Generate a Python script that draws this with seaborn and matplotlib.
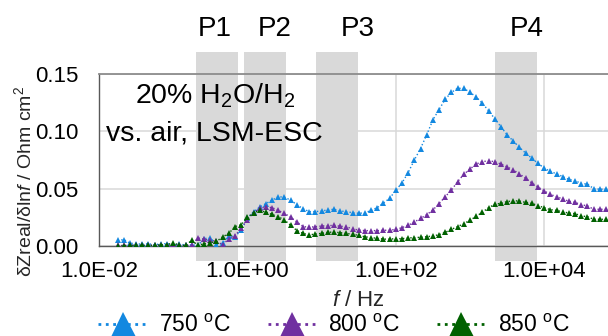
import matplotlib
matplotlib.use("Agg")
import matplotlib.pyplot as plt
import seaborn as sns
import pandas as pd
from matplotlib.ticker import FixedLocator, NullLocator

# ---------------- data ----------------
freq_hz = [0.017783, 0.021544, 0.026102, 0.031623, 0.038312, 0.046416, 0.056234, 0.068129, 0.082540,
           0.1, 0.12115, 0.14678, 0.17783, 0.21544, 0.26102, 0.31623, 0.38312, 0.46416, 0.56234, 0.68129, 0.82540,
           1.0, 1.2115, 1.4678, 1.7783, 2.1544, 2.6102, 3.1623, 3.8312, 4.6416, 5.6234, 6.8129, 8.2540,
           10.0, 12.115, 14.678, 17.783, 21.544, 26.102, 31.623, 38.312, 46.416, 56.234, 68.129, 82.540,
           100.0, 121.15, 146.78, 177.83, 215.44, 261.02, 316.23, 383.12, 464.16, 562.34, 681.29, 825.40,
           1000.0, 1211.5, 1467.8, 1778.3, 2154.4, 2610.2, 3162.3, 3831.2, 4641.6, 5623.4, 6812.9, 8254.0,
           10000.0, 12115.0, 14678.0, 17783.0, 21544.0, 26102.0, 31623.0, 38312.0, 46416.0, 56234.0, 68129.0]

dz_750 = [0.0050, 0.0055, 0.0025, 0.0020, 0.0015, 0.0020, 0.0010, 0.0020, 0.0020,
          0.0010, 0.0015, 0.0010, 0.0010, 0.0005, 0.0065, 0.0070, 0.0010, 0.0025, 0.0090, 0.0080, 0.0140,
          0.0240, 0.0300, 0.0340, 0.0370, 0.0400, 0.0430, 0.0425, 0.0400, 0.0360, 0.0325, 0.0300, 0.0300,
          0.0305, 0.0315, 0.0320, 0.0305, 0.0300, 0.0290, 0.0285, 0.0290, 0.0310, 0.0335, 0.0375, 0.0416,
          0.0485, 0.0550, 0.0640, 0.0750, 0.0850, 0.0970, 0.1100, 0.1190, 0.1280, 0.1340, 0.1375, 0.1375,
          0.1340, 0.1300, 0.1245, 0.1180, 0.1110, 0.1040, 0.0970, 0.0915, 0.0860, 0.0810, 0.0765, 0.0720,
          0.0680, 0.0650, 0.0630, 0.0605, 0.0580, 0.0570, 0.0545, 0.0540, 0.0500, 0.0495, 0.0495]

dz_800 = [0.0005, 0.0005, 0.0010, 0.0005, 0.0005, 0.0010, 0.0005, 0.0010, 0.0005,
          0.0010, 0.0005, 0.0005, 0.0005, 0.0070, 0.0060, 0.0050, 0.0040, 0.0010, 0.0065, 0.0090, 0.0155,
          0.0230, 0.0290, 0.0330, 0.0340, 0.0335, 0.0310, 0.0285, 0.0250, 0.0210, 0.0170, 0.0163, 0.0169,
          0.0174, 0.0177, 0.0180, 0.0172, 0.0169, 0.0148, 0.0140, 0.0134, 0.0134, 0.0134, 0.0137, 0.0138,
          0.0145, 0.0160, 0.0180, 0.0210, 0.0240, 0.0273, 0.0314, 0.0370, 0.0430, 0.0488, 0.0561, 0.0625,
          0.0671, 0.0715, 0.0735, 0.0744, 0.0735, 0.0715, 0.0690, 0.0663, 0.0630, 0.0590, 0.0550, 0.0515,
          0.0480, 0.0450, 0.0430, 0.0410, 0.0390, 0.0380, 0.0360, 0.0350, 0.0320, 0.0320, 0.0320]

dz_850 = [0.0000, 0.0000, 0.0005, 0.0005, 0.0005, 0.0005, 0.0005, 0.0010, 0.0010,
          0.0030, 0.0005, 0.0005, 0.0050, 0.0005, 0.0020, 0.0030, 0.0040, 0.0080, 0.0110, 0.0170, 0.0185,
          0.0250, 0.0290, 0.0310, 0.0295, 0.0275, 0.0255, 0.0227, 0.0180, 0.0135, 0.0110, 0.0096, 0.0105,
          0.0110, 0.0119, 0.0122, 0.0116, 0.0110, 0.0102, 0.0093, 0.0081, 0.0073, 0.0067, 0.0060, 0.0060,
          0.0064, 0.0064, 0.0070, 0.0073, 0.0076, 0.0081, 0.0087, 0.0099, 0.0119, 0.0145, 0.0169, 0.0195,
          0.0224, 0.0259, 0.0294, 0.0334, 0.0363, 0.0372, 0.0387, 0.0395, 0.0392, 0.0380, 0.0372, 0.0352,
          0.0334, 0.0317, 0.0311, 0.0297, 0.0288, 0.0282, 0.0262, 0.0256, 0.0233, 0.0233, 0.0233]

series_labels = ["750 $^{\\mathrm{o}}$C", "800 $^{\\mathrm{o}}$C", "850 $^{\\mathrm{o}}$C"]
band_names = ["P1", "P2", "P3", "P4"]
band_lo_hz = [0.20, 0.89, 8.3, 2140.0]
band_hi_hz = [0.74, 3.27, 30.5, 7940.0]
x_tick_values = [1e-2, 1e0, 1e2, 1e4]
x_tick_labels = ["1.0E-02", "1.0E+00", "1.0E+02", "1.0E+04"]
y_tick_values = [0.00, 0.05, 0.10, 0.15]
y_tick_labels = ["0.00", "0.05", "0.10", "0.15"]

# ---------------- style ----------------
sns.set_style("white")
plt.rcParams["font.family"] = ["Liberation Sans", "DejaVu Sans"]
plt.rcParams["mathtext.fontset"] = "custom"
plt.rcParams["mathtext.rm"] = "Liberation Sans"
plt.rcParams["mathtext.it"] = "Liberation Sans:italic"
plt.rcParams["mathtext.bf"] = "Liberation Sans:bold"
plt.rcParams["text.color"] = "black"

colors = ["#1388e0", "#7030a0", "#006100"]

fig = plt.figure(figsize=(6.08, 3.36), dpi=100)
ax = fig.add_axes([99 / 608, 90 / 336, 509 / 608, 172 / 336])

rows = []
for vals, lab in zip([dz_750, dz_800, dz_850], series_labels):
    for f, v in zip(freq_hz, vals):
        rows.append({"f": f, "dz": v, "T": lab})
df = pd.DataFrame(rows)

for lab, col in zip(series_labels, colors):
    sub = df[df["T"] == lab]
    sns.lineplot(data=sub, x="f", y="dz", ax=ax, color=col, marker="^",
                 linestyle=":", linewidth=1.0, markersize=5, markeredgewidth=0,
                 label=lab, estimator=None, sort=False, zorder=3)

ax.set_xscale("log")
ax.set_xlim(1e-2, 10 ** 4.86)
ax.set_ylim(0, 0.15)

# shaded process bands (extend beyond the axes)
for lo, hi in zip(band_lo_hz, band_hi_hz):
    ax.axvspan(lo, hi, ymin=-0.087, ymax=1.128, facecolor="#d9d9d9",
               edgecolor="none", linewidth=0, clip_on=False, zorder=0.3)

ax.set_axisbelow(True)
ax.grid(True, color="#d9d9d9", linewidth=1.1)

ax.xaxis.set_major_locator(FixedLocator(x_tick_values))
ax.xaxis.set_minor_locator(NullLocator())
ax.set_xticklabels(x_tick_labels)
ax.yaxis.set_major_locator(FixedLocator(y_tick_values))
ax.set_yticklabels(y_tick_labels)

ax.tick_params(axis="x", which="major", direction="in", length=5, width=1,
               color="#595959", labelsize=16, pad=11, labelcolor="black")
ax.tick_params(axis="y", which="major", direction="out", length=4, width=1,
               color="#595959", labelsize=16, pad=11, labelcolor="black")
ax.tick_params(axis="x", which="minor", length=0)

for side in ["left", "bottom"]:
    ax.spines[side].set_color("#595959")
    ax.spines[side].set_linewidth(1.0)
ax.spines["top"].set_color("#8c8c8c")
ax.spines["top"].set_linewidth(1.3)
ax.spines["right"].set_visible(False)

ax.set_ylabel("\u03b4Zreal/\u03b4ln$f$ / Ohm cm$^2$", fontsize=14)
ax.yaxis.set_label_coords(-0.125, 0.378)
ax.set_xlabel("$f$ / Hz", fontsize=16)
ax.xaxis.set_label_coords(0.509, -0.255)

# band labels
label_x_px = [215, 275, 358, 527]
for name, xp in zip(band_names, label_x_px):
    fig.text(xp / 608, 1 - 36 / 336, name, ha="center", va="baseline", fontsize=20)

# condition annotation
fig.text(215 / 608, 1 - 103 / 336, "20% H$_2$O/H$_2$", ha="center", va="baseline", fontsize=20.5)
fig.text(214 / 608, 1 - 140 / 336, "vs. air, LSM-ESC", ha="center", va="baseline", fontsize=20.5)

handles, labels = ax.get_legend_handles_labels()
if ax.get_legend() is not None:
    ax.get_legend().remove()
leg = fig.legend(handles, labels, loc="center", bbox_to_anchor=(334 / 608, 1 - 326 / 336),
                 ncol=3, frameon=False, fontsize=16.5, handlelength=2.1, handletextpad=0.55,
                 columnspacing=1.6, markerscale=3.6, borderpad=0, borderaxespad=0)
for hl in leg.legend_handles:
    hl.set_linewidth(2.0)

fig.savefig("out.png", dpi=100)
